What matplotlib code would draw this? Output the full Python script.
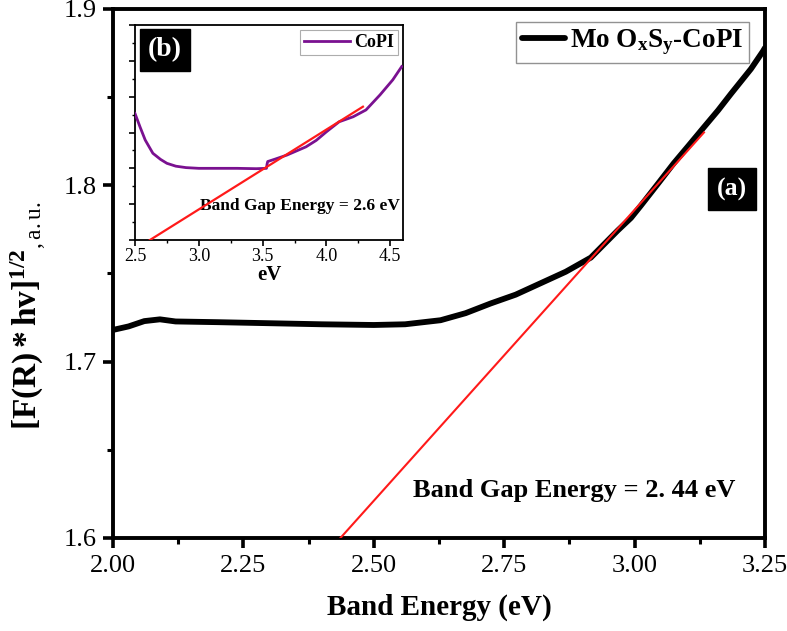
import matplotlib
matplotlib.use("Agg")
import matplotlib.pyplot as plt
from matplotlib.ticker import MultipleLocator, NullFormatter

plt.rcParams['font.family'] = ['Liberation Serif', 'DejaVu Serif']
plt.rcParams['mathtext.fontset'] = 'custom'
plt.rcParams['mathtext.rm'] = 'Liberation Serif'
plt.rcParams['mathtext.bf'] = 'Liberation Serif:bold'
plt.rcParams['mathtext.it'] = 'Liberation Serif:italic'

# ---- main data: Mo OxSy-CoPI ----
main_x = [2.00, 2.03, 2.06, 2.09, 2.12, 2.20, 2.30, 2.40, 2.50, 2.56, 2.628, 2.676,
          2.724, 2.772, 2.820, 2.868, 2.916, 2.968, 2.993, 3.012, 3.045, 3.075,
          3.104, 3.133, 3.160, 3.185, 3.223, 3.246, 3.25]
main_y = [1.718, 1.720, 1.723, 1.724, 1.7228, 1.7224, 1.7218, 1.7212, 1.7208, 1.7212,
          1.7235, 1.7275, 1.733, 1.738, 1.7445, 1.751, 1.759, 1.7745, 1.7815, 1.7885,
          1.801, 1.8125, 1.8227, 1.833, 1.8425, 1.852, 1.866, 1.876, 1.878]
fit_x = [2.436, 3.133]
fit_y = [1.600, 1.830]

# ---- inset data: CoPI ----
inset_x = [2.50, 2.54, 2.58, 2.64, 2.70, 2.75, 2.82, 2.90, 3.00, 3.16, 3.30, 3.45,
           3.53, 3.535, 3.54, 3.60, 3.69, 3.84, 3.92, 4.00, 4.10, 4.21, 4.31, 4.42,
           4.52, 4.59]
inset_y = [3.53, 3.15, 2.79, 2.42, 2.25, 2.14, 2.06, 2.02, 2.00, 2.00, 2.00, 1.99,
           2.00, 2.12, 2.19, 2.26, 2.37, 2.60, 2.78, 3.02, 3.30, 3.44, 3.63, 4.05,
           4.47, 4.84]
inset_fit_x = [2.617, 4.286]
inset_fit_y = [0.0, 3.72]

x_ticks = [2.00, 2.25, 2.50, 2.75, 3.00, 3.25]
x_tick_labels = ['2.00', '2.25', '2.50', '2.75', '3.00', '3.25']
y_ticks = [1.6, 1.7, 1.8, 1.9]
y_tick_labels = ['1.6', '1.7', '1.8', '1.9']
inset_x_ticks = [2.5, 3.0, 3.5, 4.0, 4.5]
inset_x_tick_labels = ['2.5', '3.0', '3.5', '4.0', '4.5']

fig = plt.figure(figsize=(7.87, 6.31), dpi=100)
ax = fig.add_axes([113/787, 1-538/631, (765-113)/787, (538-9)/631])

ax.plot(main_x, main_y, color='black', lw=4.2, solid_capstyle='round',
        solid_joinstyle='round',
        label=r'Mo O$_\mathbf{x}$S$_\mathbf{y}$-CoPI', zorder=3)
ax.plot(fit_x, fit_y, color='#ff1a1a', lw=1.5, zorder=4)

ax.set_xlim(2.0, 3.25)
ax.set_ylim(1.6, 1.9)
ax.set_xticks(x_ticks)
ax.set_xticklabels(x_tick_labels)
ax.set_yticks(y_ticks)
ax.set_yticklabels(y_tick_labels)
ax.xaxis.set_minor_locator(MultipleLocator(0.125))
ax.yaxis.set_minor_locator(MultipleLocator(0.05))
ax.tick_params(which='major', direction='out', length=7, width=2.6, labelsize=19,
               top=False, right=False, pad=5)
ax.tick_params(which='minor', direction='out', length=4, width=2.2, top=False, right=False)
for s in ax.spines.values():
    s.set_linewidth(2.8)

ax.set_xlabel('Band Energy (eV)', fontsize=21, fontweight='bold', labelpad=12)
fig.text(0.036, 0.50, r'$\mathbf{[F(R)*hv]^{1/2}}_{\mathrm{,a.u.}}$', rotation=90,
         fontsize=24, ha='center', va='center')

leg = ax.legend(loc='upper right', bbox_to_anchor=(0.984, 0.985),
                prop={'weight': 'bold', 'size': 19.5}, frameon=True, fancybox=False,
                handlelength=1.6, handletextpad=0.2, borderpad=0.2, borderaxespad=0.2)
leg.get_frame().set_edgecolor('#777777')
leg.get_frame().set_linewidth(1.0)

fig.text(413/787, 1-490/631, 'Band Gap Energy = 2. 44 eV',
         fontsize=19, fontweight='bold', ha='left', va='center')
fig.text(732/787, 1-189/631, '(a)', fontsize=18.5, fontweight='bold', color='white',
         ha='center', va='center',
         bbox=dict(boxstyle='square,pad=0.35', facecolor='black', edgecolor='black'))

# ---- inset ----
ins = fig.add_axes([135/787, 1-240/631, (403-135)/787, (240-25)/631])
ins.plot(inset_x, inset_y, color='#7a1190', lw=2.0, label='CoPI', zorder=3)
ins.plot(inset_fit_x, inset_fit_y, color='#ff1a1a', lw=1.6, zorder=4)
ins.set_xlim(2.5, 4.6)
ins.set_ylim(0, 6)
ins.set_xticks(inset_x_ticks)
ins.set_xticklabels(inset_x_tick_labels)
ins.xaxis.set_minor_locator(MultipleLocator(0.25))
ins.yaxis.set_major_locator(MultipleLocator(1))
ins.yaxis.set_minor_locator(MultipleLocator(0.5))
ins.yaxis.set_major_formatter(NullFormatter())
ins.tick_params(which='major', direction='out', length=4, width=1.2, labelsize=13,
                top=False, right=False, pad=2)
ins.tick_params(which='minor', direction='out', length=2.5, width=1.0, top=False, right=False)
for s in ins.spines.values():
    s.set_linewidth(1.3)
ins.set_xlabel('eV', fontsize=15, fontweight='bold', labelpad=0)
lg2 = ins.legend(loc='upper right', prop={'weight': 'bold', 'size': 13}, frameon=True,
                 fancybox=False, handlelength=2.6, handletextpad=0.2, borderpad=0.2,
                 borderaxespad=0.3)
lg2.get_frame().set_edgecolor('#999999')
lg2.get_frame().set_linewidth(0.8)
ins.text(0.99, 0.16, 'Band Gap Energy = 2.6 eV', transform=ins.transAxes, fontsize=12.5,
         fontweight='bold', ha='right', va='center')
fig.text(165/787, 1-50/631, '(b)', fontsize=20, fontweight='bold', color='white',
         ha='center', va='center',
         bbox=dict(boxstyle='square,pad=0.3', facecolor='black', edgecolor='black'))

fig.savefig('out.png', dpi=100)
